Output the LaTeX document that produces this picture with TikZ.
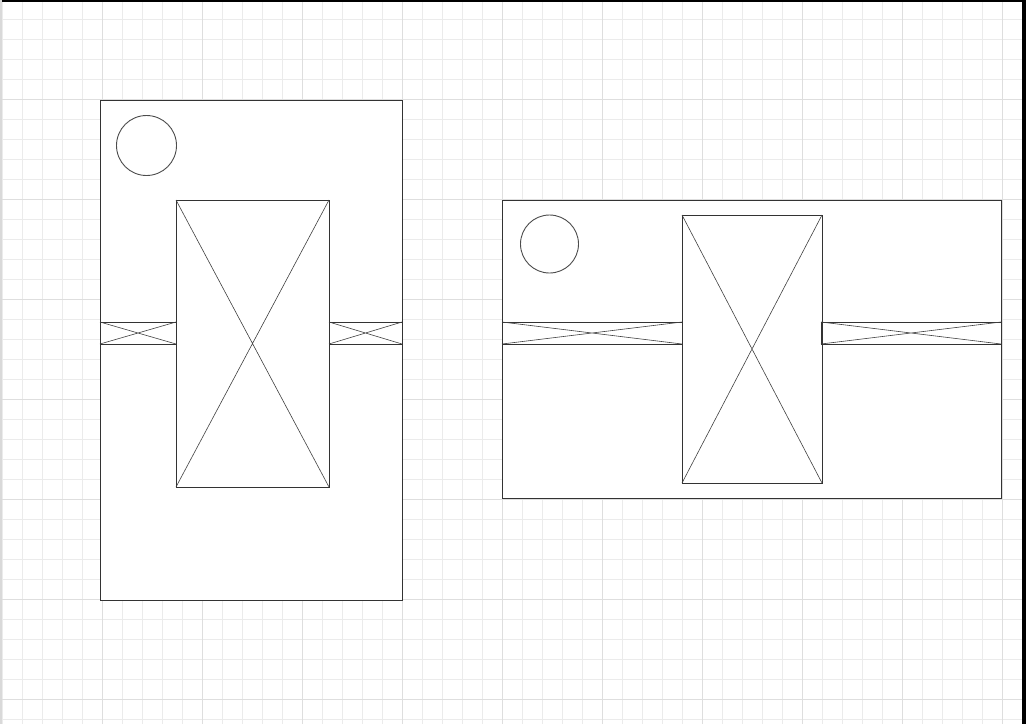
\documentclass[tikz,border=0pt]{standalone}
\usepackage{tikz}

% box with both diagonals drawn in
\newcommand{\crossbox}[4]{%
  \draw[outline] (#1,#2) rectangle (#3,#4);
  \draw[diag] (#1,#2) -- (#3,#4) (#1,#4) -- (#3,#2);
}

\begin{document}
\begin{tikzpicture}[
x=1pt, y=-1pt,
gridline/.style={draw=black!8, line width=0.8pt},
gridmajor/.style={draw=black!13, line width=0.8pt},
outline/.style={draw=black!80, line width=0.9pt},
diag/.style={draw=black!75, line width=0.6pt},
lamp/.style={draw=black!70, line width=0.9pt}
]
\useasboundingbox (0,0) rectangle (1026,724);
\fill[white] (0,0) rectangle (1026,724);

% background grid
\foreach \x in {2,22,...,1022}
  \draw[gridline] (\x,0) -- (\x,724);
\foreach \y in {19,39,...,719}
  \draw[gridline] (0,\y) -- (1026,\y);
\foreach \x in {102,202,...,1002}
  \draw[gridmajor] (\x,0) -- (\x,724);
\foreach \y in {99,199,...,699}
  \draw[gridmajor] (0,\y) -- (1026,\y);

% page edges
\fill[black] (0,0) rectangle (1026,1.5);
\fill[black] (1022,0) rectangle (1026,724);
\fill[black!15] (0,0) rectangle (1.5,724);

% left panel (portrait)
\draw[outline, fill=white] (100,100) rectangle (402,600);
\draw[lamp] (146.5,145.5) circle (30);
\crossbox{176}{200}{329}{487}
\crossbox{100}{322}{176}{344}
\crossbox{329}{322}{402}{344}

% right panel (landscape)
\draw[outline, fill=white] (502,200) rectangle (1001,498);
\draw[lamp] (549.5,244) circle (29);
\crossbox{682}{215}{822}{483}
\crossbox{502}{322}{682}{344}
\crossbox{821}{322}{1001}{344}
\end{tikzpicture}
\end{document}
